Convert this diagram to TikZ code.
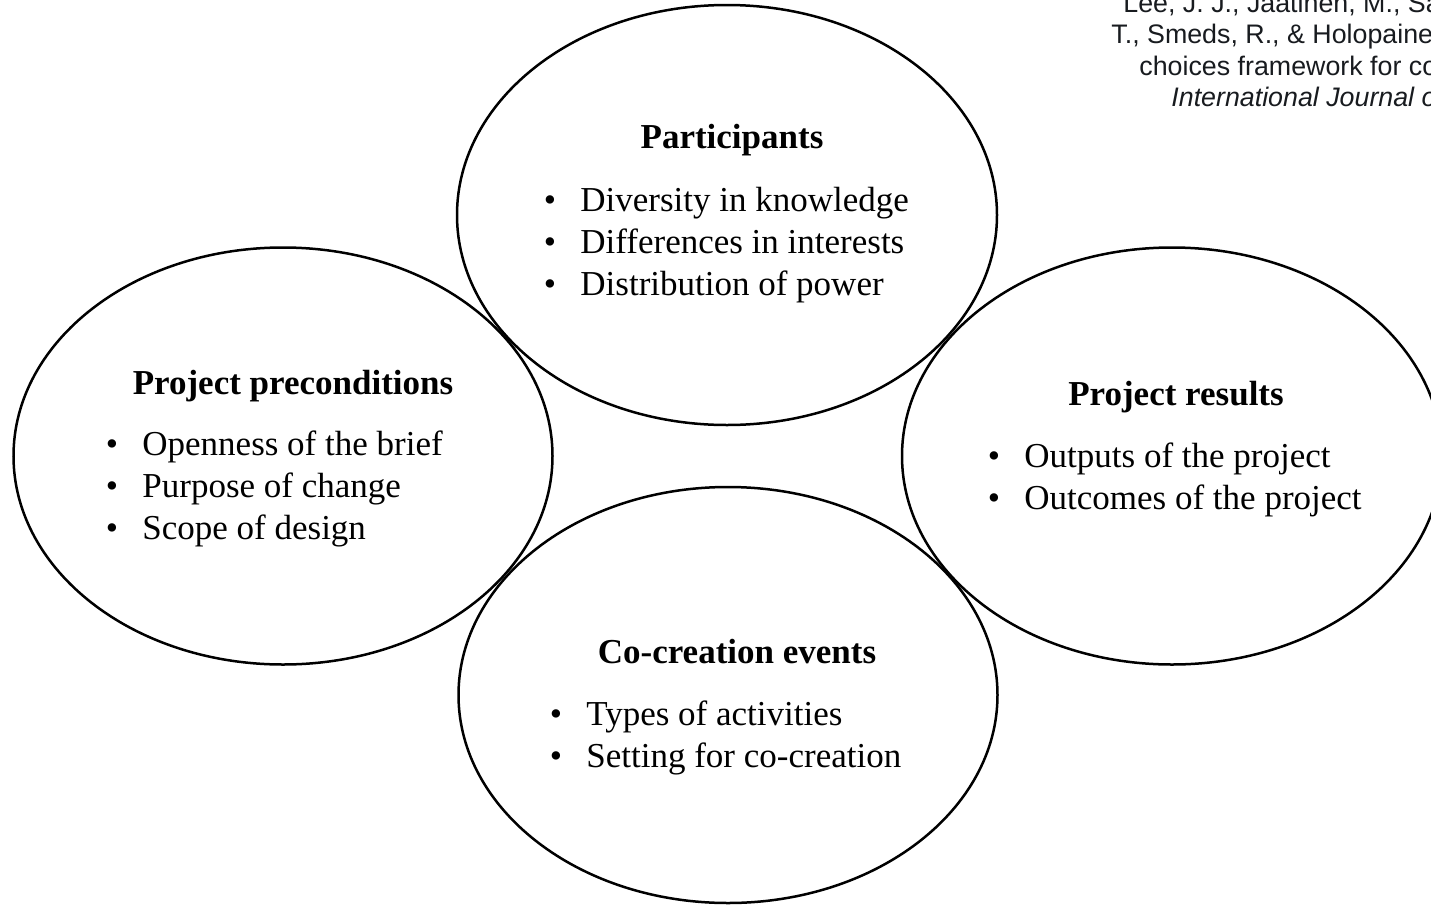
\documentclass[tikz,border=0pt]{standalone}
\usepackage{fontspec}
\setmainfont{Liberation Serif}
\newfontfamily\citefont{Liberation Sans}
\usetikzlibrary{shapes.geometric}
\definecolor{citegray}{RGB}{24,27,31}
\begin{document}
\begin{tikzpicture}[x=0.5pt,y=-0.5pt,
  area/.style={ellipse,draw,line width=1.25pt,inner sep=0pt,outer sep=0pt},
  heading/.style={anchor=base,inner sep=0pt,font=\fontsize{17.5pt}{21pt}\selectfont\bfseries},
  item/.style={anchor=base west,inner sep=0pt,font=\fontsize{17.5pt}{21pt}\selectfont},
  dot/.style={anchor=base,inner sep=0pt,font=\fontsize{17.5pt}{21pt}\selectfont},
  cite/.style={anchor=base west,inner sep=0pt,text=citegray,font=\citefont\fontsize{13.4pt}{16pt}\selectfont}]
\useasboundingbox (0,0) rectangle (1431,905);
\clip (0,0) rectangle (1431,905);

% the four areas
\node[area,minimum width=270pt,minimum height=210pt] (part) at (727,215) {};
\node[area,minimum width=269.5pt,minimum height=208.5pt] (pre) at (283,456) {};
\node[area,minimum width=270pt,minimum height=208.5pt] (res) at (1172,456) {};
\node[area,minimum width=269.5pt,minimum height=208pt] (cocr) at (728,695) {};

% Participants
\node[heading] (partT) at (732,148) {Participants};
\node[dot] (partB1) at (550,211) {•};
\node[item] (partI1) at (580,211) {Diversity in knowledge};
\node[dot] (partB2) at (550,253) {•};
\node[item] (partI2) at (580,253) {Differences in interests};
\node[dot] (partB3) at (550,295) {•};
\node[item] (partI3) at (580,295) {Distribution of power};

% Project preconditions
\node[heading] (preT) at (293,394) {Project preconditions};
\node[dot] (preB1) at (112,455) {•};
\node[item] (preI1) at (142,455) {Openness of the brief};
\node[dot] (preB2) at (112,497) {•};
\node[item] (preI2) at (142,497) {Purpose of change};
\node[dot] (preB3) at (112,539) {•};
\node[item] (preI3) at (142,539) {Scope of design};

% Project results
\node[heading] (resT) at (1176,405) {Project results};
\node[dot] (resB1) at (994,467) {•};
\node[item] (resI1) at (1024,467) {Outputs of the project};
\node[dot] (resB2) at (994,509) {•};
\node[item] (resI2) at (1024,509) {Outcomes of the project};

% Co-creation events
\node[heading] (cocrT) at (737,663) {Co-creation events};
\node[dot] (cocrB1) at (556,725) {•};
\node[item] (cocrI1) at (586,725) {Types of activities};
\node[dot] (cocrB2) at (556,767) {•};
\node[item] (cocrI2) at (586,767) {Setting for co-creation};

% reference note, top right (runs past the right edge)
\node[cite] (ref1) at (1123,12) {Lee, J. J., Jaatinen, M., Salmi, A., Mattelmäki,};
\node[cite] (ref2) at (1111,43) {T., Smeds, R., \& Holopainen, M. (2018). Design};
\node[cite] (ref3) at (1139,75) {choices framework for co-creation projects.};
\node[cite,font=\citefont\itshape\fontsize{13.4pt}{16pt}\selectfont] (ref4) at (1171,106) {International Journal of Design};
\end{tikzpicture}
\end{document}
